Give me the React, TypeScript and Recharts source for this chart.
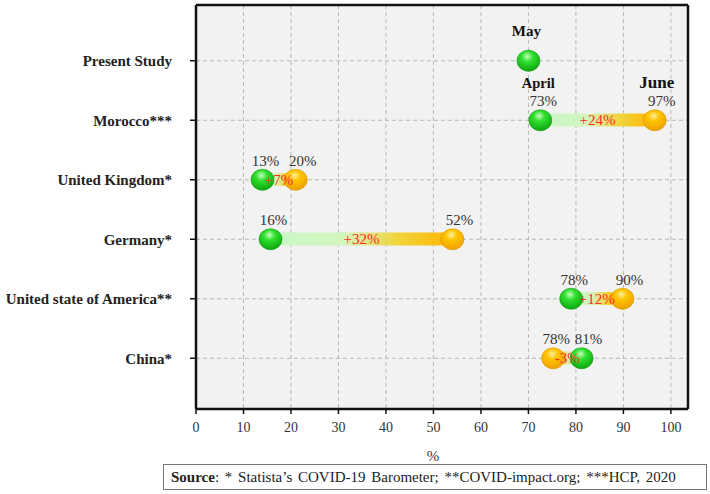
import React from "react";
import { Bar, Cell, CartesianGrid, ComposedChart, ReferenceLine, Scatter, XAxis, YAxis } from "recharts";

const rows = [
    "Present Study",
    "Morocco***",
    "United Kingdom*",
    "Germany*",
    "United state of America**",
    "China*",
];
// first survey (green) and second survey (orange)
const firstVals = [70, 72.5, 14, 15.7, 79, 81.2];
const secondVals: (number | null)[] = [null, 96.6, 21, 54, 89.8, 75.2];
const firstLabels = ["", "73%", "13%", "16%", "78%", "81%"];
const secondLabels = ["", "97%", "20%", "52%", "90%", "78%"];
const changeLabels = ["", "+24%", "+7%", "+32%", "+12%", "-3%"];
const firstMonths = ["May", "April", "", "", "", ""];
const secondMonths = ["", "June", "", "", "", ""];
const xTicks = [0, 10, 20, 30, 40, 50, 60, 70, 80, 90, 100];
const X_MAX = 103.6;

const SERIF = "'Liberation Serif', 'Times New Roman', serif";

const data = rows.map((name, i) => {
    const a = firstVals[i];
    const b = secondVals[i];
    return {
        name,
        first: a,
        second: b,
        range: b == null ? null : [Math.min(a, b), Math.max(a, b)],
        mid: b == null ? null : (a + b) / 2,
        reversed: b != null && b < a,
        firstLabel: firstLabels[i],
        secondLabel: secondLabels[i],
        change: changeLabels[i],
        firstMonth: firstMonths[i],
        secondMonth: secondMonths[i],
    };
});

function Ball(props: any) {
    const { cx, cy, payload, kind } = props;
    const v = payload?.[kind];
    if (v == null || cx == null || cy == null) return <g />;
    const isFirst = kind === "first";
    const pct = isFirst ? payload.firstLabel : payload.secondLabel;
    const month = isFirst ? payload.firstMonth : payload.secondMonth;
    // the right-hand ball of a pair gets its label nudged a little further right
    const onRight = isFirst ? payload.reversed : !payload.reversed;
    const dx = onRight ? 7 : 3;
    return (
        <g>
            <ellipse
                cx={cx}
                cy={cy}
                rx={11.5}
                ry={10.5}
                fill={isFirst ? "url(#ballGreen)" : "url(#ballOrange)"}
                stroke={isFirst ? "#139a13" : "#d99a00"}
                strokeWidth={0.6}
            />
            {pct && (
                <text x={cx + dx} y={cy - 14} textAnchor="middle" fontFamily={SERIF} fontSize={15} fill="#333">
                    {pct}
                </text>
            )}
            {month && (
                <text
                    x={cx + (isFirst ? -2 : 2)}
                    y={cy - (pct ? 32 : 25)}
                    textAnchor="middle"
                    fontFamily={SERIF}
                    fontWeight="bold"
                    fontSize={month === "June" ? 17 : month === "April" ? 14.5 : 15}
                    fill="#111"
                >
                    {month}
                </text>
            )}
        </g>
    );
}

function ChangeText(props: any) {
    const { cx, cy, payload } = props;
    if (payload?.mid == null || cx == null || cy == null) return <g />;
    return (
        <text x={cx} y={cy + 5} textAnchor="middle" fontFamily={SERIF} fontSize={15} fill="#ff2a2a">
            {payload.change}
        </text>
    );
}

export default function App() {
    return (
        <div style={{ position: "fixed", left: 0, top: 0, width: 710, height: 494, background: "#fff", fontFamily: SERIF }}>
            <ComposedChart
                width={710}
                height={470}
                data={data}
                layout="vertical"
                margin={{ top: 4, right: 22, bottom: 0, left: 0 }}
            >
                <defs>
                    <linearGradient id="barFwd" x1="0" y1="0" x2="1" y2="0">
                        <stop offset="0%" stopColor="#c9f7c9" />
                        <stop offset="40%" stopColor="#d3f5bd" />
                        <stop offset="70%" stopColor="#f0d43a" />
                        <stop offset="100%" stopColor="#ffb400" />
                    </linearGradient>
                    <linearGradient id="barRev" x1="1" y1="0" x2="0" y2="0">
                        <stop offset="0%" stopColor="#c9f7c9" />
                        <stop offset="40%" stopColor="#d3f5bd" />
                        <stop offset="70%" stopColor="#f0d43a" />
                        <stop offset="100%" stopColor="#ffb400" />
                    </linearGradient>
                    <radialGradient id="ballGreen" cx="45%" cy="30%" r="70%">
                        <stop offset="0%" stopColor="#c8ffc0" />
                        <stop offset="35%" stopColor="#30e030" />
                        <stop offset="100%" stopColor="#0ea80e" />
                    </radialGradient>
                    <radialGradient id="ballOrange" cx="45%" cy="30%" r="70%">
                        <stop offset="0%" stopColor="#fff0a0" />
                        <stop offset="35%" stopColor="#ffc400" />
                        <stop offset="100%" stopColor="#eea000" />
                    </radialGradient>
                </defs>
                <CartesianGrid stroke="#b8b8b8" strokeDasharray="4 3" fill="#f2f2f2" />
                <XAxis
                    type="number"
                    domain={[0, X_MAX]}
                    ticks={xTicks}
                    allowDataOverflow
                    height={61}
                    tick={{ fill: "#333", fontSize: 14, fontFamily: SERIF }}
                    tickSize={5}
                    tickMargin={8}
                    axisLine={{ stroke: "#111", strokeWidth: 2.5 }}
                    tickLine={{ stroke: "#111", strokeWidth: 1.5 }}
                    label={{ value: "%", position: "insideBottom", offset: 9, dx: -9, style: { fontFamily: SERIF, fontSize: 15, fill: "#333" } }}
                />
                {/* top edge of the frame */}
                <XAxis
                    xAxisId="top"
                    orientation="top"
                    type="number"
                    domain={[0, X_MAX]}
                    allowDataOverflow
                    height={1}
                    tick={false}
                    tickLine={false}
                    axisLine={{ stroke: "#111", strokeWidth: 2.5 }}
                />
                <YAxis
                    type="category"
                    dataKey="name"
                    width={196}
                    padding={{ top: 26, bottom: 21 }}
                    tick={{ fill: "#222", fontSize: 15, fontWeight: "bold", fontFamily: SERIF }}
                    tickSize={6}
                    tickMargin={18}
                    axisLine={{ stroke: "#111", strokeWidth: 2.5 }}
                    tickLine={{ stroke: "#111", strokeWidth: 1.5 }}
                />
                {/* right edge of the frame */}
                <ReferenceLine x={X_MAX} stroke="#111" strokeWidth={2.5} ifOverflow="visible" />
                <Bar dataKey="range" barSize={13} isAnimationActive={false}>
                    {data.map((d, i) => (
                        <Cell key={i} fill={d.reversed ? "url(#barRev)" : "url(#barFwd)"} />
                    ))}
                </Bar>
                <Scatter dataKey="first" isAnimationActive={false} shape={(p: any) => <Ball {...p} kind="first" />} />
                <Scatter dataKey="second" isAnimationActive={false} shape={(p: any) => <Ball {...p} kind="second" />} />
                <Scatter
                    dataKey="mid"
                    xAxisId="top"
                    isAnimationActive={false}
                    shape={(p: any) => <ChangeText {...p} />}
                />
            </ComposedChart>
            <div
                style={{
                    position: "absolute",
                    left: 163,
                    top: 464,
                    width: 544,
                    height: 26,
                    boxSizing: "border-box",
                    border: "1px solid #777",
                    paddingLeft: 7,
                    fontSize: 15,
                    lineHeight: "24px",
                    wordSpacing: 2,
                    color: "#222",
                    whiteSpace: "nowrap",
                }}
            >
                <b>Source</b>: * Statista’s COVID-19 Barometer; **COVID-impact.org; ***HCP, 2020
            </div>
        </div>
    );
}
